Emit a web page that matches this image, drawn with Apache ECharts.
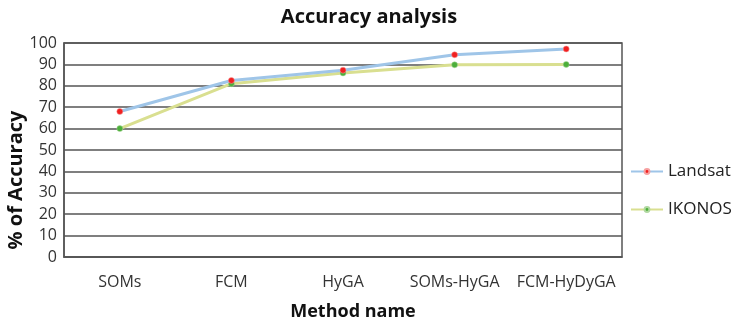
<!DOCTYPE html>
<html><head><meta charset="utf-8">
<script src="https://cdn.jsdelivr.net/npm/echarts@6/dist/echarts.min.js"></script>
<style>html,body{margin:0;padding:0;background:#fff}#c{width:738px;height:331px}</style>
</head><body><div id="c"></div>
<script>
var categories = ['SOMs', 'FCM', 'HyGA', 'SOMs-HyGA', 'FCM-HyDyGA'];
var landsat = [68, 82.5, 87.3, 94.5, 97.2];
var ikonos = [60, 81, 86, 89.8, 90];
var yTicks = [0, 100, 10];

var chart = echarts.init(document.getElementById('c'));
var F = 'Open Sans';
chart.setOption({
  animation: false,
  title: { text: 'Accuracy analysis', left: 'center', top: 2,
    textStyle: { fontFamily: F, fontWeight: 'bold', fontSize: 20, color: '#111' } },
  legend: {
    orient: 'vertical', left: 630, top: 163, padding: 0, itemGap: 21, itemWidth: 32, itemHeight: 6,
    textStyle: { fontFamily: F, fontSize: 17, color: '#222' },
    data: ['Landsat', 'IKONOS']
  },
  grid: { left: 64, right: 116, top: 43, bottom: 74, show: true, borderColor: '#555', borderWidth: 1.5,
    containLabel: false, outerBoundsMode: 'none' },
  xAxis: {
    type: 'category', data: categories, boundaryGap: true,
    name: 'Method name', nameLocation: 'middle', nameGap: 46, nameMoveOverlap: false,
    nameTextStyle: { fontFamily: F, fontWeight: 'bold', fontSize: 18, color: '#111', padding: [0, 0, 0, 20] },
    axisLine: { lineStyle: { color: '#555', width: 1.5 } },
    axisTick: { inside: true, length: 5, lineStyle: { color: '#555' } },
    axisLabel: { fontFamily: F, fontSize: 16, color: '#333', margin: 17, interval: 0 }
  },
  yAxis: {
    type: 'value', min: yTicks[0], max: yTicks[1], interval: yTicks[2],
    name: '% of Accuracy', nameLocation: 'middle', nameGap: 38, nameRotate: 90, nameMoveOverlap: false,
    nameTextStyle: { fontFamily: F, fontWeight: 'bold', fontSize: 20, color: '#111', padding: [0, 60, 0, 0] },
    axisLine: { show: true, lineStyle: { color: '#555', width: 1.5 } },
    axisTick: { show: false },
    axisLabel: { fontFamily: F, fontSize: 16, color: '#333', margin: 7 },
    splitLine: { lineStyle: { color: '#555', width: 1.5 } }
  },
  series: [
    { name: 'Landsat', type: 'line', data: landsat, symbol: 'circle', symbolSize: 6,
      lineStyle: { color: '#9fc5e8', width: 3 }, itemStyle: { color: '#f02020', borderColor: '#f7a0a0', borderWidth: 0.5 }, z: 3 },
    { name: 'IKONOS', type: 'line', data: ikonos, symbol: 'circle', symbolSize: 6,
      lineStyle: { color: '#d9df90', width: 3 }, itemStyle: { color: '#4caf3a', borderColor: '#b0d8a0', borderWidth: 0.5 }, z: 2 }
  ]
});
</script></body></html>
